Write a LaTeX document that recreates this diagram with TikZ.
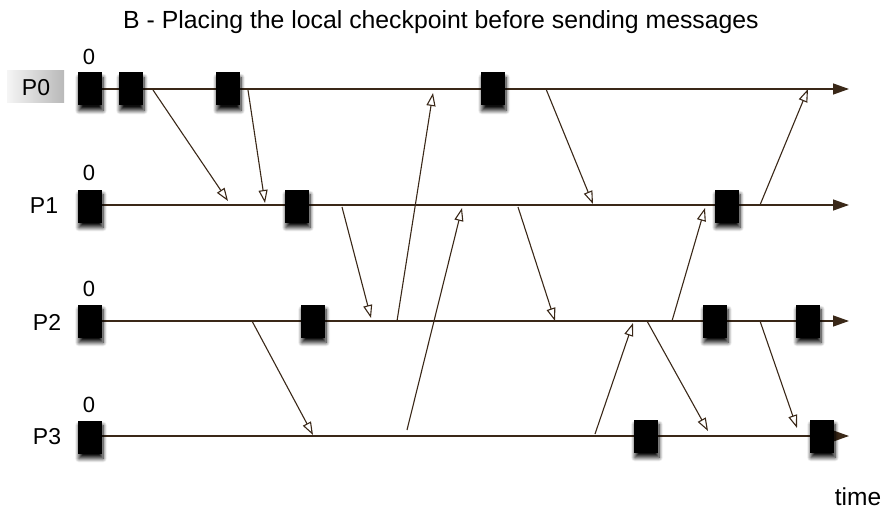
\documentclass[tikz,border=0pt]{standalone}
\usepackage{fontspec}
\setmainfont{Liberation Sans}
\usetikzlibrary{arrows.meta,shadows.blur}
\definecolor{ln}{RGB}{58,40,24}
\tikzset{
  cp/.style={rectangle,fill=black,minimum width=24pt,minimum height=33pt,inner sep=0pt,
    blur shadow={shadow xshift=1pt,shadow yshift=-5pt,shadow blur radius=4pt,shadow blur steps=8,shadow opacity=95}},
  tl/.style={draw=ln,line width=1.3pt,-{Triangle[length=16pt,width=11pt]}},
  msg/.style={draw=ln,line width=1.1pt,-{Triangle[open,length=13pt,width=9pt,line width=1.1pt]}},
  lbl/.style={font=\fontsize{23}{26}\selectfont,inner sep=0pt},
  zero/.style={font=\fontsize{22}{24}\selectfont,inner sep=0pt},
}
\begin{document}
\begin{tikzpicture}[x=1pt,y=-1pt]
\useasboundingbox (0,0) rectangle (889,516);
% title
\node[font=\fontsize{24.8}{27}\selectfont] (title) at (441,22) {B - Placing the local checkpoint before sending messages};
\node[font=\fontsize{24.5}{27}\selectfont,inner sep=0pt] (time) at (858,497) {time};
% process labels
\node[rectangle,left color=gray!8,right color=gray!55,minimum width=57pt,minimum height=32pt,inner sep=0pt] (p0box) at (35.5,87) {};
\node[lbl] (p0) at (36,88) {P0};
\node[lbl] (p1) at (44,206) {P1};
\node[lbl] (p2) at (47,322) {P2};
\node[lbl] (p3) at (47,437) {P3};
% zeros
\node[zero] (z0) at (89,57) {0};
\node[zero] (z1) at (89,173) {0};
\node[zero] (z2) at (89,289) {0};
\node[zero] (z3) at (89,405) {0};
% timelines
\coordinate (s0) at (95,89); \coordinate (e0) at (849,89);
\coordinate (s1) at (95,205); \coordinate (e1) at (849,205);
\coordinate (s2) at (95,321); \coordinate (e2) at (849,321);
\coordinate (s3) at (95,436); \coordinate (e3) at (849,436);
\draw[tl] (s0) -- (e0);
\draw[tl] (s1) -- (e1);
\draw[tl] (s2) -- (e2);
\draw[tl] (s3) -- (e3);
% message endpoints
\coordinate (a1) at (153,90);  \coordinate (b1) at (228,201);
\coordinate (a2) at (248,90);  \coordinate (b2) at (265,203);
\coordinate (a3) at (397,321); \coordinate (b3) at (433,93);
\coordinate (a4) at (407,430); \coordinate (b4) at (462,208);
\coordinate (a5) at (546,89);  \coordinate (b5) at (593,204);
\coordinate (a6) at (342,207); \coordinate (b6) at (371,318);
\coordinate (a7) at (518,207); \coordinate (b7) at (555,321);
\coordinate (a8) at (252,321); \coordinate (b8) at (313,435);
\coordinate (a9) at (595,434); \coordinate (b9) at (633,323);
\coordinate (a10) at (647,321); \coordinate (b10) at (708,431);
\coordinate (a11) at (672,321); \coordinate (b11) at (705,208);
\coordinate (a12) at (760,205); \coordinate (b12) at (808,89);
\coordinate (a13) at (760,321); \coordinate (b13) at (797,428);
\foreach \i in {1,...,13} {\draw[msg] (a\i) -- (b\i);}
% checkpoints
\node[cp] (c00) at (90,89) {};
\node[cp] (c01) at (131,89) {};
\node[cp] (c02) at (228,89) {};
\node[cp] (c03) at (493,89) {};
\node[cp] (c10) at (90,206) {};
\node[cp] (c11) at (297,206) {};
\node[cp] (c12) at (727,206) {};
\node[cp] (c20) at (90,321) {};
\node[cp] (c21) at (313,321) {};
\node[cp] (c22) at (715,321) {};
\node[cp] (c23) at (808,321) {};
\node[cp] (c30) at (90,437) {};
\node[cp] (c31) at (646,436) {};
\node[cp] (c32) at (822,436) {};
\end{tikzpicture}
\end{document}
